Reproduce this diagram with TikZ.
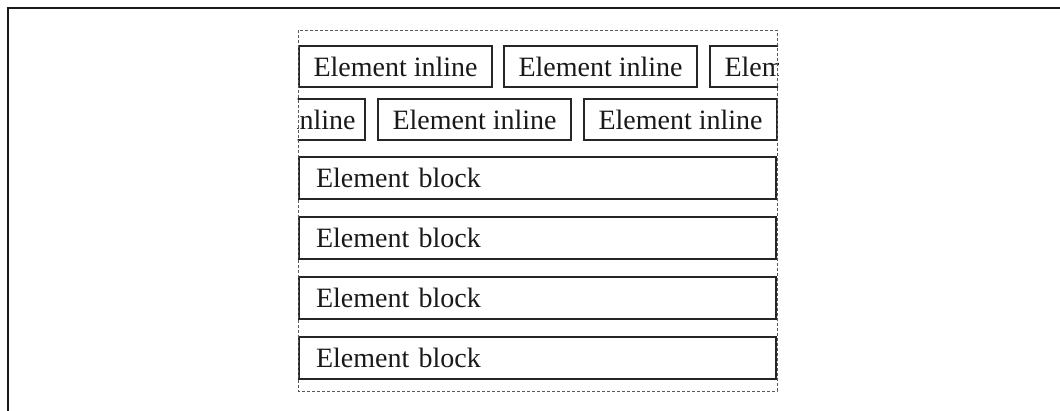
\documentclass[tikz,border=0pt]{standalone}
\usepackage{fontspec}
\setmainfont{Liberation Serif}
\begin{document}
\begin{tikzpicture}[x=1pt,y=-1pt,
  every node/.style={font=\fontsize{28}{32}\selectfont, text=black!90},
  inlinebox/.style={draw=black!85, line width=2pt, inner xsep=14.5pt, inner ysep=0pt, minimum height=41pt, outer sep=0pt},
  blockbox/.style={draw=black!85, line width=2pt, inner xsep=17pt, inner ysep=0pt, text width=443pt, align=left, minimum height=42pt, outer sep=0pt, anchor=north west},
  container/.style={draw=black!65, line width=0.8pt, dash pattern=on 3pt off 2pt},
  frame/.style={draw=black!90, line width=2.5pt}]
\useasboundingbox (0,0) rectangle (1060,410);
% outer frame (only top and left edges visible)
\coordinate (fbl) at (8,412);
\coordinate (ftl) at (8,8);
\coordinate (ftr) at (1062,8);
\draw[frame] (fbl) -- (ftl) -- (ftr);
\begin{scope}
  \clip (297.5,29) rectangle (778,392);
  % first line of inline elements
  \node[inlinebox, anchor=west] (r1a) at (299,66.5) {Element inline};
  \node[inlinebox, anchor=west] (r1b) at (504,66.5) {Element inline};
  \node[inlinebox, anchor=west] (r1c) at (710,66.5) {Element inline};
  % second line of inline elements
  \node[inlinebox, anchor=east] (r2a) at (365,119.5) {Element inline\kern-5pt};
  \node[inlinebox, anchor=west] (r2b) at (378,119.5) {Element inline};
  \node[inlinebox, anchor=west] (r2c) at (584,119.5) {Element inline};
  % block elements
  \node[blockbox] (b1) at (299,157) {Element block};
  \node[blockbox] (b2) at (299,217) {Element block};
  \node[blockbox] (b3) at (299,277) {Element block};
  \node[blockbox] (b4) at (299,337) {Element block};
\end{scope}
% dashed container
\draw[container] (298,30) rectangle (777,391);
\end{tikzpicture}
\end{document}
